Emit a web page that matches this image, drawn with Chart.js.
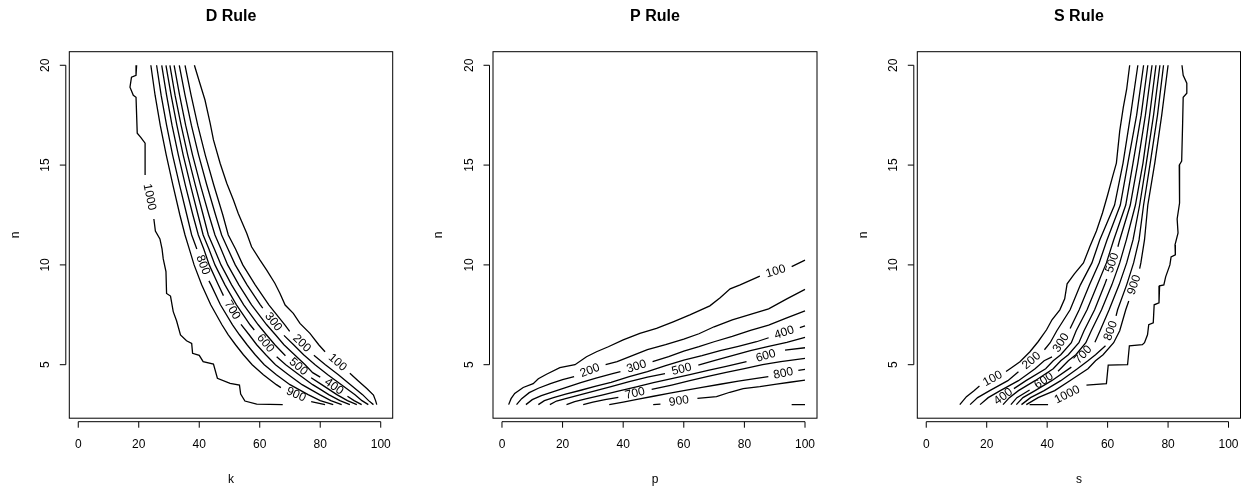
<!DOCTYPE html>
<html>
<head>
<meta charset="utf-8">
<script src="https://cdn.jsdelivr.net/npm/chart.js@4/dist/chart.umd.min.js"></script>
<style>
  body { margin: 0; background: #fff; }
  #wrap { position: relative; width: 1247px; height: 488px; }
  #wrap canvas { position: absolute; top: 0; }
</style>
</head>
<body>
<div id="wrap">
  <canvas id="d-rule" width="416" height="488" style="left:0px"></canvas>
  <canvas id="p-rule" width="416" height="488" style="left:416px"></canvas>
  <canvas id="s-rule" width="415" height="488" style="left:832px"></canvas>
</div>
<script>
// tick labels and contour levels
var xTickValues = [0, 20, 40, 60, 80, 100];
var nTickValues = [5, 10, 15, 20];
var contourLevels = [100, 200, 300, 400, 500, 600, 700, 800, 900, 1000];

// contour lines as [x, n]; null = gap where the label sits
// D rule (x = k)
var d100 = [[38.4,20],[40.2,19.1],[41.9,18.26],[43.6,17.1],[44.7,16.26],[46.9,15.09],[49.1,14.09],[51.3,13.25],[52.9,12.58],[55.7,11.58],[57.3,10.91],[60.1,10.24],[62.3,9.74],[65.0,9.08],[66.7,8.57],[68.4,7.99],[71.1,7.57],[73.3,7.07],[76.6,6.57],[79.5,6.0],[81.6,5.65],null,[89.8,4.57],[92.5,4.2],[95.4,3.81],[97.6,3.48],[98.3,3.2],[98.7,3.0]];
var d200 = [[35.3,20],[37.3,18.5],[39.5,17],[42.0,15.5],[44.8,14],[47.8,12.5],[49.6,11.5],[52.0,10.8],[54.4,10],[58.5,9],[63.0,8],[68.3,7],[69.9,6.67],null,[77.9,5.47],[81.7,5],[86.0,4.5],[90.0,4],[94.0,3.5],[96.0,3.2],[97.6,3.0]];
var d300 = [[33.4,20],[35.3,18.5],[37.4,17],[39.8,15.5],[42.5,14],[45.4,12.5],[47.4,11.5],[49.5,10.8],[51.9,10],[55.8,9],[60.2,8],[61.0,7.83],null,[68.0,6.47],[71.2,6],[74.5,5.5],[78.3,5],[82.5,4.5],[87.0,4],[91.5,3.5],[93.8,3.2],[95.9,3.0]];
var d400 = [[31.7,20],[33.5,18.5],[35.5,17],[37.8,15.5],[40.4,14],[43.2,12.5],[45.2,11.5],[47.2,10.8],[49.4,10],[53.1,9],[57.3,8],[62.3,7],[65.2,6.5],[68.0,6],[71.5,5.5],[75.0,5],[77.5,4.6],[80.0,4.38],null,[89.0,3.42],[91.2,3.2],[93.7,3.0]];
var d500 = [[30.3,20],[32.0,18.5],[34.0,17],[36.2,15.5],[38.7,14],[41.3,12.5],[43.0,11.5],[45.0,10.8],[47.2,10],[50.7,9],[54.7,8],[59.5,7],[62.2,6.5],[65.0,6],[68.5,5.45],null,[77.0,4.35],[80.5,4],[83.0,3.75],[85.5,3.5],[89.0,3.2],[92.1,3.0]];
var d600 = [[29.0,20],[30.7,18.5],[32.6,17],[34.7,15.5],[37.1,14],[39.6,12.5],[41.3,11.5],[43.2,10.8],[45.2,10],[48.5,9],[52.3,8],[56.8,7],[58.2,6.74],null,[65.6,5.4],[68.6,5],[73.0,4.5],[77.5,4],[80.2,3.75],[82.8,3.5],[86.5,3.2],[89.8,3.0]];
var d700 = [[27.6,20],[29.2,18.5],[31.0,17],[33.1,15.5],[35.4,14],[37.9,12.5],[39.7,11.5],[41.5,10.8],[43.3,10],[46.3,9],[48.0,8.46],null,[53.8,7.02],[56.5,6.5],[59.0,6],[62.0,5.5],[65.2,5],[69.5,4.5],[74.0,4],[76.9,3.75],[79.8,3.5],[83.5,3.2],[87.1,3.0]];
var d800 = [[25.9,20],[27.4,18.5],[29.2,17],[31.2,15.5],[33.5,14],[35.9,12.5],[37.5,11.5],[39.2,10.8],null,[43.2,9.2],[43.9,9],[47.0,8],[51.0,7],[53.3,6.5],[55.8,6],[58.5,5.5],[61.5,5],[65.5,4.5],[70.0,4],[73.0,3.75],[76.0,3.5],[80.0,3.2],[84.3,3.0]];
var d900 = [[24.0,20],[25.4,18.5],[27.1,17],[29.1,15.5],[31.3,14],[33.6,12.5],[35.3,11.5],[36.7,10.8],[38.3,10],[40.8,9],[43.8,8],[47.5,7],[49.6,6.5],[52.0,6],[54.6,5.5],[57.5,5],[61.2,4.5],[65.5,4],[67.0,3.85],null,[77.0,3.15],[81.6,3.0]];
var d1000 = [[19.3,20],[19.1,19.5],[17.6,19.4],[17.1,18.9],[18.2,18.5],[19.1,18.4],[19.5,16.6],[20.6,16.4],[22.1,16.1],[22.1,14.5],null,[25.0,12.3],[25.5,11.7],[27.0,11.3],[27.7,10.8],[28.1,10.3],[29.0,9.66],[29.2,8.57],[30.5,8.44],[31.4,7.66],[32.5,7.2],[33.8,6.49],[35.8,6.2],[37.5,6.07],[37.8,5.57],[40.0,5.47],[41.3,5.15],[44.7,5.03],[46.0,4.32],[50.2,4.06],[53.3,3.98],[53.7,3.53],[55.1,3.18],[59.0,3.03],[67.6,3.0]];

// P rule (x = p)
var p100 = [[2.2,3.0],[3.0,3.3],[4.2,3.56],[7.0,3.86],[10.3,4.05],[12.0,4.3],[14.7,4.52],[19.1,4.85],[24.1,5.0],[27.9,5.4],[31.2,5.65],[35.1,5.9],[40.0,6.24],[45.5,6.57],[51.0,6.82],[56.5,7.15],[62.0,7.5],[68.6,7.95],[72.0,8.35],[75.3,8.8],[78.6,9.0],[85.1,9.44],null,[95.6,9.91],[100,10.24]];
var p200 = [[4.8,3.0],[6.5,3.3],[9.0,3.6],[12.0,3.82],[16.0,4.05],[20.0,4.25],[23.8,4.4],null,[34.2,5.0],[38.0,5.15],[43.0,5.45],[48.0,5.75],[54.0,6.0],[60.0,6.28],[65.0,6.55],[70.0,6.9],[76.0,7.25],[82.0,7.52],[88.0,7.8],[94.0,8.3],[100,8.77]];
var p300 = [[7.9,3.0],[10.0,3.25],[13.0,3.45],[17.0,3.65],[21.0,3.85],[26.0,4.1],[31.0,4.33],[36.5,4.55],[39.1,4.65],null,[49.7,5.15],[55.0,5.4],[60.0,5.68],[65.0,5.9],[70.0,6.15],[76.0,6.42],[82.0,6.72],[88.0,6.98],[94.0,7.35],[100,7.7]];
var p400 = [[12.0,3.0],[14.0,3.2],[17.0,3.35],[21.0,3.52],[26.0,3.72],[31.0,3.93],[36.0,4.12],[42.0,4.4],[48.0,4.65],[54.0,4.95],[60.0,5.23],[66.0,5.45],[72.0,5.7],[78.0,5.92],[84.0,6.15],[88.0,6.35],null,[98.3,6.86],[100,6.94]];
var p500 = [[15.8,3.0],[18.0,3.18],[21.0,3.3],[26.0,3.5],[31.0,3.7],[36.0,3.9],[42.0,4.15],[48.0,4.38],[53.8,4.55],null,[64.8,4.98],[70.0,5.2],[76.0,5.45],[82.0,5.7],[88.0,5.92],[94.0,6.12],[100,6.37]];
var p600 = [[21.3,3.0],[24.0,3.15],[28.0,3.3],[33.0,3.48],[38.0,3.66],[44.0,3.88],[50.0,4.1],[56.0,4.3],[62.0,4.5],[68.0,4.72],[74.0,4.92],[80.7,5.15],null,[93.4,5.73],[100,5.85]];
var p700 = [[26.8,3.0],[30.0,3.12],[34.0,3.25],[38.4,3.36],null,[49.4,3.76],[56.0,3.98],[62.0,4.2],[68.0,4.42],[74.0,4.62],[80.0,4.8],[86.0,5.0],[92.0,5.15],[100,5.32]];
var p800 = [[35.4,3.0],[40.0,3.13],[45.0,3.28],[50.0,3.42],[55.0,3.56],[60.0,3.7],[66.0,3.86],[72.0,4.02],[78.0,4.18],[84.0,4.32],[87.9,4.4],null,[97.8,4.72],[100,4.77]];
var p900 = [[49.9,3.0],[52.3,3.03],null,[64.5,3.31],[70.8,3.4],[75.2,3.62],[79.6,3.8],[85.1,3.9],[90.6,4.03],[95.0,4.12],[100,4.23]];
var p1000 = [[95.6,3.0],[100,3.0]];

// S rule (x = s)
var s100 = [[67.3,20],[66.3,18.8],[65.2,17.9],[64.0,16.7],[62.9,15.1],[61.6,14.4],[60.0,13.5],[58.3,12.6],[56.3,11.7],[54.2,10.95],[52.0,10.1],[49.0,9.55],[46.6,9.05],[45.8,8.3],[44.2,7.75],[41.6,7.25],[39.8,6.75],[37.0,6.15],[34.3,5.65],[31.0,5.15],[28.2,4.85],[26.4,4.66],null,[17.6,3.93],[15.8,3.7],[13.3,3.4],[11.1,3.0]];
var s200 = [[70.0,20],[67.6,17.5],[65.1,15.1],[62.3,13],[57.4,11.25],[54.8,10.1],[51.0,9],[47.6,7.75],[43.2,6.7],[41.0,6.1],[39.1,5.75],null,[30.5,4.65],[27.0,4.2],[21.0,3.7],[17.0,3.35],[14.5,3.0]];
var s300 = [[71.9,20],[69.6,17.5],[66.7,15.1],[64.2,13],[59.8,11.25],[57.2,10.1],[54.0,9],[50.6,7.75],[47.6,6.81],null,[41.6,5.39],[39.0,5.2],[36.0,4.8],[30.5,4.2],[24.5,3.7],[20.5,3.35],[17.8,3.0]];
var s400 = [[73.3,20],[71.1,17.5],[68.4,15.1],[66.0,13],[62.0,11.25],[59.6,10.1],[56.6,9],[53.2,7.75],[49.6,6.7],[48.0,6.1],[44.5,5.5],[42.0,5.2],[39.5,4.8],[33.0,4.2],[29.0,3.8],null,[22.0,3.0]];
var s500 = [[74.7,20],[72.5,17.5],[70.0,15.1],[67.5,13],[64.0,11.25],[63.4,10.91],null,[59.7,9.29],[59.0,9],[55.7,7.75],[52.2,6.7],[50.5,6.1],[47.0,5.5],[44.5,5.2],[42.0,4.8],[36.0,4.2],[30.5,3.7],[27.5,3.35],[25.4,3.0]];
var s600 = [[76.0,20],[73.9,17.5],[71.7,15.1],[69.2,13],[66.2,11.25],[64.0,10.1],[61.4,9],[58.0,7.75],[54.6,6.7],[52.8,6.1],[49.5,5.5],[47.0,5.2],[43.6,4.67],null,[34.2,3.73],[30.0,3.35],[28.0,3.0]];
var s700 = [[77.3,20],[75.2,17.5],[72.8,15.1],[70.6,13],[68.4,11.25],[66.3,10.1],[63.8,9],[60.5,7.75],[57.5,6.7],[55.8,6.12],null,[48.0,4.88],[41.5,4.2],[36.0,3.7],[32.0,3.35],[29.8,3.0]];
var s800 = [[78.5,20],[76.5,17.5],[74.1,15.1],[71.9,13],[70.4,11.25],[68.6,10.1],[66.3,9],[63.3,7.75],[62.8,7.45],null,[59.3,5.95],[56.0,5.5],[53.5,5.2],[50.0,4.8],[44.5,4.2],[39.0,3.7],[34.5,3.35],[31.5,3.0]];
var s900 = [[80.0,20],[77.9,17.5],[75.6,15.1],[73.3,13],[72.2,11.25],[71.0,10.1],[70.6,9.81],null,[67.0,8.19],[66.0,7.75],[64.0,6.7],[62.0,6.1],[58.5,5.5],[56.0,5.2],[53.5,4.8],[47.5,4.2],[42.5,3.7],[37.0,3.35],[33.1,3.0]];
var s1000 = [[84.6,20],[85.0,19.5],[86.2,19.1],[86.2,18.6],[85.0,18.4],[84.8,17.0],[84.5,15.2],[83.7,15.0],[83.8,13.1],[83.0,12.3],[83.3,11.6],[82.3,11.0],[82.4,10.5],[81.0,10.4],[80.6,10.0],[79.2,9.4],[78.6,9.0],[77.2,8.95],[77.0,8.1],[75.4,8.0],[75.1,7.1],[73.6,7.0],[73.2,6.5],[72.2,6.1],[71.5,6.0],[67.2,5.95],[66.6,5.0],[60.2,4.98],[59.6,4.05],[53.0,3.98],null,[40.3,3.0],[34.2,3.0]];

var FONT = '"Liberation Sans", Arial, Helvetica, sans-serif';

function toPoints(arr) {
    return arr.map(function (p) { return p ? {x: p[0], y: p[1]} : {x: NaN, y: NaN}; });
}

// R-like frame, axes, titles and contour labels
var rStyle = {
    id: 'rStyle',
    afterDatasetsDraw: function (chart, args, opts) {
        var ctx = chart.ctx, a = chart.chartArea;
        var xs = chart.scales.x, ys = chart.scales.y;
        ctx.save();
        ctx.strokeStyle = '#000';
        ctx.fillStyle = '#000';
        ctx.lineWidth = 1;
        ctx.strokeRect(a.left, a.top, a.right - a.left, a.bottom - a.top);

        // x axis
        var ay = a.bottom + 3.5;
        ctx.beginPath();
        ctx.moveTo(xs.getPixelForValue(xTickValues[0]), ay);
        ctx.lineTo(xs.getPixelForValue(xTickValues[xTickValues.length - 1]), ay);
        xTickValues.forEach(function (v) {
            var px = xs.getPixelForValue(v);
            ctx.moveTo(px, ay);
            ctx.lineTo(px, ay + 6);
        });
        // y axis
        var ax = a.left - 3.5;
        ctx.moveTo(ax, ys.getPixelForValue(nTickValues[0]));
        ctx.lineTo(ax, ys.getPixelForValue(nTickValues[nTickValues.length - 1]));
        nTickValues.forEach(function (v) {
            var py = ys.getPixelForValue(v);
            ctx.moveTo(ax, py);
            ctx.lineTo(ax - 6, py);
        });
        ctx.stroke();

        ctx.font = '12px ' + FONT;
        ctx.textAlign = 'center';
        ctx.textBaseline = 'middle';
        xTickValues.forEach(function (v) {
            ctx.fillText(String(v), xs.getPixelForValue(v), 445);
        });
        nTickValues.forEach(function (v) {
            ctx.save();
            ctx.translate(a.left - 23.5, ys.getPixelForValue(v));
            ctx.rotate(-Math.PI / 2);
            ctx.fillText(String(v), 0, 0);
            ctx.restore();
        });
        var cx = (a.left + a.right) / 2;
        ctx.fillText(opts.xTitle, cx, 480);
        ctx.save();
        ctx.translate(a.left - 54, (a.top + a.bottom) / 2);
        ctx.rotate(-Math.PI / 2);
        ctx.fillText('n', 0, 0);
        ctx.restore();

        ctx.font = 'bold 16px ' + FONT;
        ctx.fillText(opts.title, cx, 17);

        // contour labels in the line gaps
        ctx.font = '12px ' + FONT;
        chart.data.datasets.forEach(function (ds) {
            var raw = ds.raw;
            for (var i = 1; i < raw.length; i++) {
                if (raw[i] !== null) continue;
                var p0 = raw[i - 1], p1 = raw[i + 1];
                var x0 = xs.getPixelForValue(p0[0]), y0 = ys.getPixelForValue(p0[1]);
                var x1 = xs.getPixelForValue(p1[0]), y1 = ys.getPixelForValue(p1[1]);
                var ang = Math.atan2(y1 - y0, x1 - x0);
                if (ang > Math.PI / 2) ang -= Math.PI;
                if (ang < -Math.PI / 2) ang += Math.PI;
                ctx.save();
                ctx.translate((x0 + x1) / 2, (y0 + y1) / 2);
                ctx.rotate(ang);
                ctx.fillText(ds.label, 0, 0);
                ctx.restore();
            }
        });
        ctx.restore();
    }
};

function makePanel(id, title, xTitle, lines, pad) {
    var ctx = document.getElementById(id);
    return new Chart(ctx, {
        type: 'scatter',
        data: {
            datasets: lines.map(function (arr, i) {
                return {
                    label: String(contourLevels[i]),
                    raw: arr,
                    data: toPoints(arr),
                    showLine: true,
                    borderColor: '#000',
                    borderWidth: 1.3,
                    pointRadius: 0,
                    spanGaps: false
                };
            })
        },
        options: {
            responsive: false,
            animation: false,
            events: [],
            layout: { padding: pad },
            scales: {
                x: { type: 'linear', min: -2.96, max: 103.96, display: false },
                y: { type: 'linear', min: 2.32, max: 20.68, display: false }
            },
            plugins: {
                legend: { display: false },
                tooltip: { enabled: false },
                rStyle: { title: title, xTitle: xTitle }
            }
        },
        plugins: [rStyle]
    });
}

makePanel('d-rule', 'D Rule', 'k',
    [d100, d200, d300, d400, d500, d600, d700, d800, d900, d1000],
    { left: 69.3, right: 23.3, top: 51.7, bottom: 69.8 });
makePanel('p-rule', 'P Rule', 'p',
    [p100, p200, p300, p400, p500, p600, p700, p800, p900, p1000],
    { left: 77, right: 15, top: 51.7, bottom: 69.8 });
makePanel('s-rule', 'S Rule', 's',
    [s100, s200, s300, s400, s500, s600, s700, s800, s900, s1000],
    { left: 85.3, right: 6.5, top: 51.7, bottom: 69.8 });
</script>
</body>
</html>
